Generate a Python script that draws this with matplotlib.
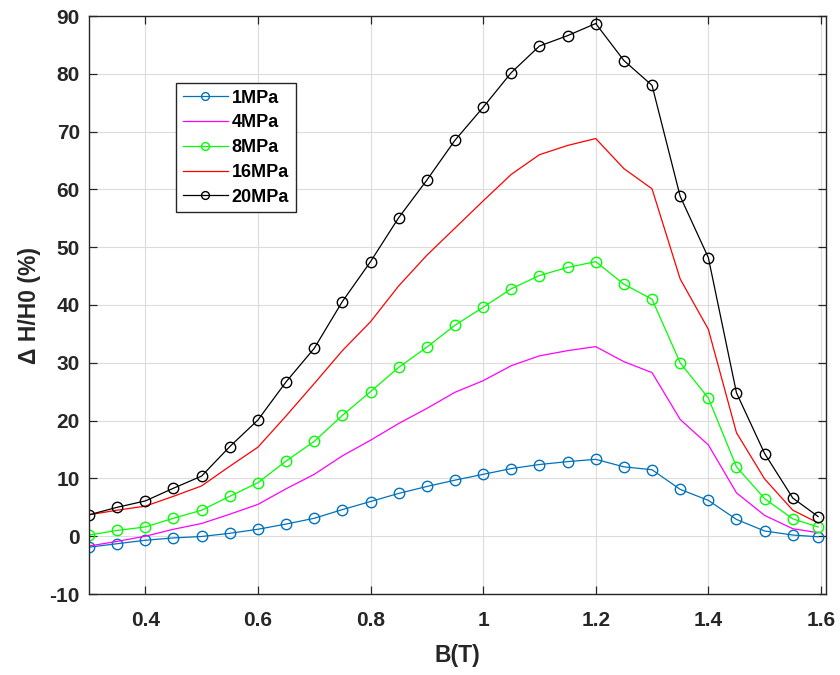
import matplotlib
matplotlib.use("Agg")
import matplotlib.pyplot as plt

plt.rcParams['font.family'] = ['Liberation Sans', 'DejaVu Sans']
plt.rcParams['font.weight'] = 'bold'
plt.rcParams['axes.unicode_minus'] = False

B = [0.30, 0.35, 0.40, 0.45, 0.50, 0.55, 0.60, 0.65, 0.70, 0.75, 0.80, 0.85, 0.90,
     0.95, 1.00, 1.05, 1.10, 1.15, 1.20, 1.25, 1.30, 1.35, 1.40, 1.45, 1.50, 1.55, 1.595]

mpa1 = [-1.9, -1.3, -0.7, -0.3, -0.05, 0.5, 1.2, 2.1, 3.1, 4.6, 6.0, 7.4, 8.6,
        9.7, 10.7, 11.7, 12.4, 12.9, 13.3, 12.0, 11.5, 8.1, 6.2, 2.9, 0.9, 0.2, -0.1]
mpa4 = [-1.7, -0.9, 0.0, 1.2, 2.2, 3.8, 5.5, 8.2, 10.7, 13.9, 16.6, 19.5, 22.1,
        24.9, 26.9, 29.5, 31.2, 32.1, 32.8, 30.2, 28.3, 20.2, 15.8, 7.5, 3.6, 1.3, 0.6]
mpa8 = [0.2, 1.0, 1.6, 3.1, 4.5, 6.9, 9.25, 13.0, 16.4, 20.9, 25.0, 29.2, 32.7,
        36.5, 39.6, 42.8, 45.1, 46.5, 47.5, 43.6, 41.0, 30.0, 23.9, 12.0, 6.5, 3.0, 1.6]
mpa16 = [3.7, 4.5, 5.2, 6.9, 8.7, 12.1, 15.4, 20.8, 26.4, 32.1, 37.1, 43.3, 48.6,
         53.3, 58.0, 62.6, 66.0, 67.6, 68.8, 63.6, 60.1, 44.5, 35.8, 17.9, 9.9, 4.5, 2.3]
mpa20 = [3.7, 5.0, 6.1, 8.3, 10.4, 15.5, 20.1, 26.7, 32.5, 40.6, 47.5, 55.1, 61.6,
         68.5, 74.2, 80.2, 84.8, 86.6, 88.7, 82.3, 78.0, 58.8, 48.2, 24.8, 14.3, 6.6, 3.4]

labels = ['1MPa', '4MPa', '8MPa', '16MPa', '20MPa']
xticks = [0.4, 0.6, 0.8, 1.0, 1.2, 1.4, 1.6]
xticklabels = ['0.4', '0.6', '0.8', '1', '1.2', '1.4', '1.6']
yticks = list(range(-10, 91, 10))

fig = plt.figure(figsize=(8.4, 6.75), dpi=100)
ax = fig.add_axes([89/840, 1-594/675, (826-89)/840, (594-16)/675])

lw = 0.9
ms = 7.5
ax.plot(B, mpa1, '-o', color='#0072BD', lw=lw, ms=ms, mfc='none', mew=1.0, label=labels[0])
ax.plot(B, mpa4, '-', color='#FF00FF', lw=lw, label=labels[1])
ax.plot(B, mpa8, '-o', color='#00FF00', lw=lw, ms=ms, mfc='none', mew=1.0, label=labels[2])
ax.plot(B, mpa16, '-', color='#FF0000', lw=lw, label=labels[3])
ax.plot(B, mpa20, '-o', color='#000000', lw=lw, ms=ms, mfc='none', mew=1.0, label=labels[4])

ax.set_xlim(0.3, 1.609)
ax.set_ylim(-10, 90)
ax.set_xticks(xticks)
ax.set_xticklabels(xticklabels)
ax.set_yticks(yticks)

tc = '#262626'
ax.grid(True, color='#dcdcdc', lw=0.8)
ax.set_axisbelow(True)
for s in ax.spines.values():
    s.set_color(tc)
    s.set_linewidth(1.0)
ax.tick_params(direction='in', length=6, width=0.9, color=tc, labelcolor=tc,
               labelsize=15, top=True, right=True)
ax.tick_params(axis='x', pad=12)
ax.tick_params(axis='y', pad=6.5)
for t in ax.get_xticklabels() + ax.get_yticklabels():
    t.set_fontweight('bold')

ax.set_xlabel('B(T)', fontsize=16.5, fontweight='bold', color=tc, labelpad=10)
ax.set_ylabel('\u0394 H/H0 (%)', fontsize=16.5, fontweight='bold', color=tc, labelpad=6)

leg = ax.legend(loc='upper left', bbox_to_anchor=(0.118, 0.8846), borderaxespad=0,
                prop={'weight': 'bold', 'size': 13}, fancybox=False, framealpha=1,
                edgecolor=tc, handlelength=2.5, handletextpad=0.2, labelspacing=0.43,
                borderpad=0.38, markerscale=0.75)
leg.get_frame().set_linewidth(1.0)
for t in leg.get_texts():
    t.set_color('black')

fig.savefig('out.png', dpi=100)
